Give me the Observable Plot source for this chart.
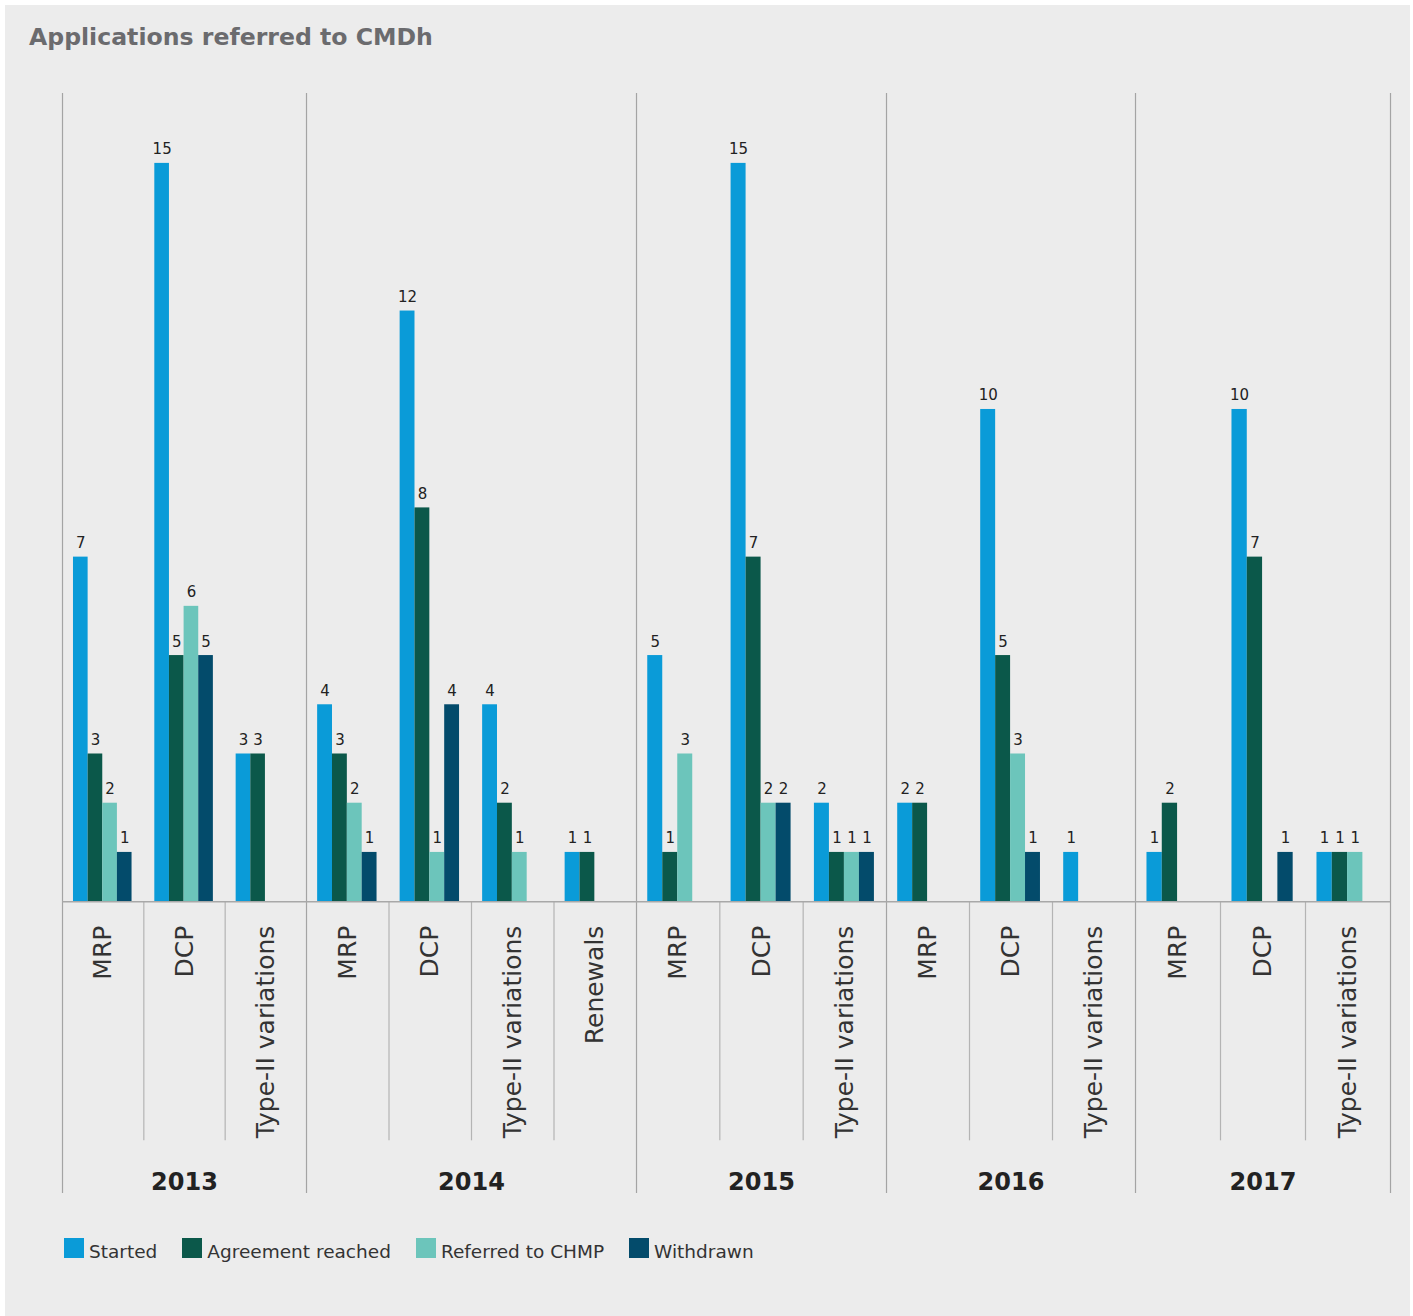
<!DOCTYPE html>
<html>
<head>
<meta charset="utf-8">
<script src="https://cdn.jsdelivr.net/npm/d3@7"></script>
<script src="https://cdn.jsdelivr.net/npm/@observablehq/plot@0.6"></script>
<style>
  html, body { margin: 0; padding: 0; background: #ffffff; }
  #panel { position: absolute; left: 5px; top: 5px; width: 1405px; height: 1311px; background: #ececec; }
  #title { position: absolute; left: 29px; top: 26px; font: bold 23.6px "DejaVu Sans", sans-serif; line-height: 23px; color: #6b6b6e; white-space: nowrap; }
  #chart { position: absolute; left: 0; top: 60px; }
  #legend { position: absolute; left: 64px; top: 1238px; display: flex; align-items: baseline; font: 18.5px "DejaVu Sans", sans-serif; color: #333; white-space: nowrap; }
  #legend .item { display: flex; align-items: baseline; margin-right: 25px; }
  #legend .sw { display: inline-block; width: 20px; height: 20px; margin-right: 5px; }
</style>
</head>
<body>
<div id="panel"></div>
<div id="title">Applications referred to CMDh</div>
<div id="chart"></div>
<div id="legend"></div>
<script>
// ---- data ----
const series = ["Started", "Agreement reached", "Referred to CHMP", "Withdrawn"];
const seriesColors = ["#0a9bd8", "#0b584a", "#6cc5bb", "#034b6b"];
const groupYear = ["2013","2013","2013","2014","2014","2014","2014","2015","2015","2015","2016","2016","2016","2017","2017","2017"];
const groupCategory = ["MRP","DCP","Type-II variations","MRP","DCP","Type-II variations","Renewals","MRP","DCP","Type-II variations","MRP","DCP","Type-II variations","MRP","DCP","Type-II variations"];
const started   = [7, 15, 3, 4, 12, 4, 1, 5, 15, 2, 2, 10, 1, 1, 10, 1];
const agreement = [3,  5, 3, 3,  8, 2, 1, 1,  7, 1, 2,  5, 0, 2,  7, 1];
const referred  = [2,  6, 0, 2,  1, 1, 0, 3,  2, 1, 0,  3, 0, 0,  0, 1];
const withdrawn = [1,  5, 0, 1,  4, 0, 0, 0,  2, 1, 0,  1, 0, 0,  1, 0];

// ---- build tables ----
const valuesBySeries = [started, agreement, referred, withdrawn];
const n = groupCategory.length;
const pad = 0.135, bw = 0.18;
const rows = [];
for (let gi = 0; gi < n; gi++) {
  series.forEach((s, si) => {
    const v = valuesBySeries[si][gi];
    if (v > 0) rows.push({gi, si, series: s, value: v});
  });
}
const groups = groupCategory.map((c, gi) => ({gi, category: c, year: groupYear[gi]}));
const yearEdges = [0];
for (let i = 1; i < n; i++) if (groupYear[i] !== groupYear[i - 1]) yearEdges.push(i);
yearEdges.push(n);
const catEdges = d3.range(1, n).filter(i => !yearEdges.includes(i));
const yearsData = yearEdges.slice(0, -1).map((e, k) => ({year: groupYear[e], center: (e + yearEdges[k + 1]) / 2}));

// layout (pixel range of the year boundaries, and vertical extent in value units)
const xRangePx = [62, 306, 636, 886, 1135, 1390];
const yTop = 16.42, yBottom = -5.93, ySep = -4.86;

const chart = Plot.plot({
  width: 1413,
  height: 1150,
  marginLeft: 62,
  marginRight: 23,
  marginTop: 33,
  marginBottom: 17,
  style: {background: "transparent", fontFamily: "DejaVu Sans, sans-serif"},
  x: {type: "linear", domain: yearEdges, range: xRangePx, axis: null},
  y: {domain: [yBottom, yTop], axis: null},
  color: {domain: series, range: seriesColors},
  marks: [
    Plot.ruleX(yearEdges, {y1: yBottom, y2: yTop, stroke: "#a4a4a4", strokeWidth: 1.2}),
    Plot.ruleX(catEdges, {y1: 0, y2: ySep, stroke: "#b4b4b4", strokeWidth: 1.2}),
    Plot.rect(rows, {
      x1: d => d.gi + pad + d.si * bw,
      x2: d => d.gi + pad + (d.si + 1) * bw,
      y1: 0, y2: "value", fill: "series"
    }),
    Plot.ruleY([0], {stroke: "#a8a8a8", strokeWidth: 1.5}),
    Plot.text(rows, {
      x: d => d.gi + pad + (d.si + 0.5) * bw,
      y: "value", text: d => String(d.value),
      dy: -9, lineAnchor: "bottom", fontSize: 15, fill: "#222"
    }),
    Plot.text(groups, {
      x: d => d.gi + 0.5, y: 0, text: "category",
      rotate: -90, textAnchor: "end", dy: 24, fontSize: 25, fill: "#333"
    }),
    Plot.text(yearsData, {
      x: "center", y: 0, text: "year", dy: 281,
      fontSize: 24, fontWeight: "bold", fill: "#222"
    })
  ]
});
document.getElementById("chart").appendChild(chart);

// ---- legend ----
const legend = document.getElementById("legend");
series.forEach((s, i) => {
  const item = document.createElement("div");
  item.className = "item";
  const sw = document.createElement("span");
  sw.className = "sw";
  sw.style.background = seriesColors[i];
  const label = document.createElement("span");
  label.textContent = s;
  item.appendChild(sw);
  item.appendChild(label);
  legend.appendChild(item);
});
</script>
</body>
</html>
